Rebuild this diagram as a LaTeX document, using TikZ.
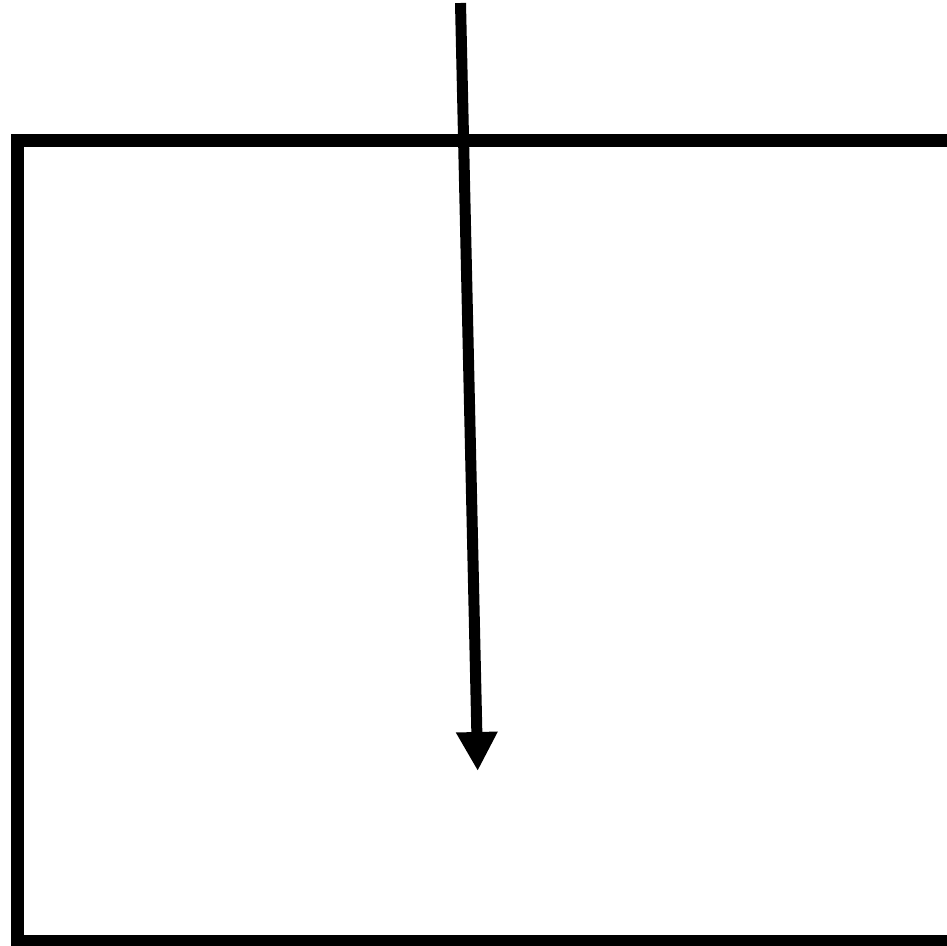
\documentclass[tikz,border=0pt]{standalone}
\usepackage{tikz}
\usetikzlibrary{arrows.meta}
\tikzset{
  frame/.style={draw=black,line width=12.5pt},          % outer box
  ray/.style={-{Triangle[length=39pt,width=39pt]},black,line width=11pt},
}

\begin{document}
\begin{tikzpicture}[x=1pt,y=-1pt]
  \useasboundingbox (0,0) rectangle (947,945);
  \clip (0,0) rectangle (947,945);
  \draw[frame] (17.5,140.5) rectangle (975,941);
  % falling arrow
  \coordinate (src) at (460.5,3);
  \coordinate (dst) at (477.7,771);
  \draw[ray] (src) -- (dst);
\end{tikzpicture}
\end{document}
